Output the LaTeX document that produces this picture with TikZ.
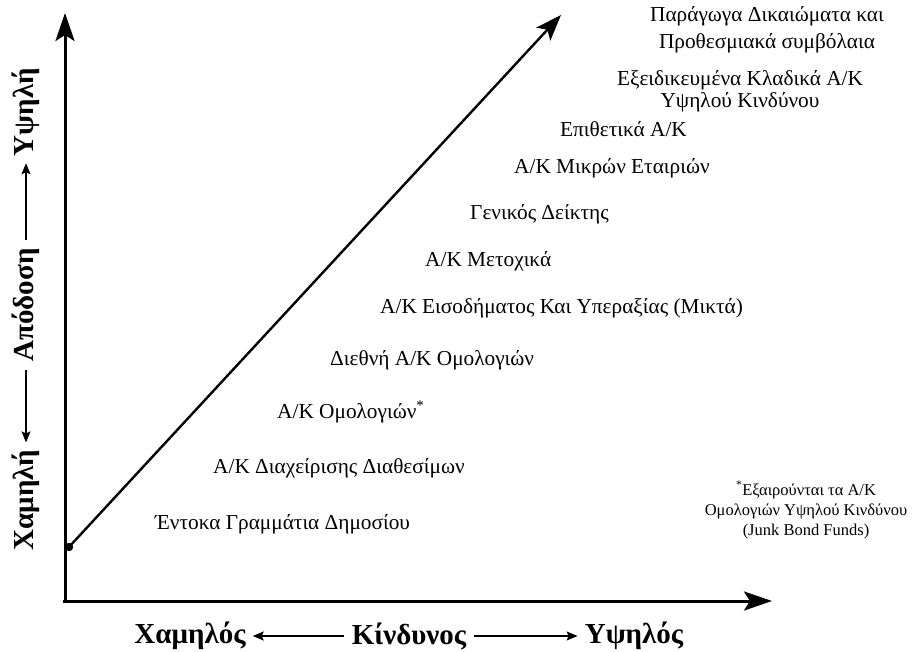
\documentclass[tikz,border=0pt]{standalone}
\usepackage{fontspec}
\setmainfont{Liberation Serif}
\usetikzlibrary{positioning, arrows.meta}
\tikzset{
  fundlbl/.style={font=\fontsize{21.3}{22}\selectfont, inner sep=0pt, anchor=west},
  fundpair/.style={font=\fontsize{21.3}{22}\selectfont, inner sep=0pt, align=center},
  notelbl/.style={font=\fontsize{16.5}{20}\selectfont, inner sep=0pt, align=center},
  axislbl/.style={font=\bfseries\fontsize{29}{30}\selectfont, inner sep=0pt},
  axisline/.style={line width=3pt, -{Stealth[length=28pt,width=19pt,inset=6pt]}},
  trendline/.style={line width=2.4pt, -{Stealth[length=26pt,width=19pt,inset=6pt]}},
  smallarrow/.style={line width=1.4pt, -{Stealth[length=11pt,width=9pt,inset=2pt]}},
}

\begin{document}
\begin{tikzpicture}[x=1pt,y=-1pt]
  \useasboundingbox (0,0) rectangle (912,652);

  % axes
  \coordinate (ytop) at (65,13);
  \coordinate (xend) at (772,601);
  \draw[axisline] (65,603) -- (ytop);
  \draw[axisline] (63,601) -- (xend);

  % risk / return line
  \coordinate (tstart) at (69,547);
  \coordinate (tend) at (561,15);
  \draw[trendline] (tstart) -- (tend);
  \fill (tstart) circle (4.2);

  % fund categories
  \node[fundpair] (deriv) at (767,29.5) {Παράγωγα Δικαιώματα και\\[5pt]Προθεσμιακά συμβόλαια};
  \node[fundpair] (sector) at (740,91.5) {Εξειδικευμένα Κλαδικά Α/Κ\\Υψηλού Κινδύνου};
  \node[fundlbl] (aggr) at (560,129) {Επιθετικά Α/Κ};
  \node[fundlbl] (small) at (514,168) {Α/Κ Μικρών Εταιριών};
  \node[fundlbl] (index) at (470,214) {Γενικός Δείκτης};
  \node[fundlbl] (equity) at (425,261) {Α/Κ Μετοχικά};
  \node[fundlbl] (mixed) at (380,308) {Α/Κ Εισοδήματος Και Υπεραξίας (Μικτά)};
  \node[fundlbl] (intbond) at (330,360) {Διεθνή Α/Κ Ομολογιών};
  \node[fundlbl] (bond) at (277,412) {Α/Κ Ομολογιών\textsuperscript{*}};
  \node[fundlbl] (money) at (213,468) {Α/Κ Διαχείρισης Διαθεσίμων};
  \node[fundlbl] (tbill) at (155,524) {Έντοκα Γραμμάτια Δημοσίου};

  % footnote
  \node[notelbl] (note) at (806,510) {\textsuperscript{*}Εξαιρούνται τα Α/Κ\\Ομολογιών Υψηλού Κινδύνου\\(Junk Bond Funds)};

  % x axis caption
  \node[axislbl] (xlow) at (190,636) {Χαμηλός};
  \node[axislbl] (xmid) at (409,636) {Κίνδυνος};
  \node[axislbl] (xhigh) at (634,636) {Υψηλός};
  \draw[smallarrow] ([xshift=-8pt]xmid.west) -- ([xshift=7pt]xlow.east);
  \draw[smallarrow] ([xshift=8pt]xmid.east) -- ([xshift=-7pt]xhigh.west);

  % y axis caption
  \node[axislbl, rotate=90] (ylow) at (26,500) {Χαμηλή};
  \node[axislbl, rotate=90] (ymid) at (26,305) {Απόδοση};
  \node[axislbl, rotate=90] (yhigh) at (26,112) {Υψηλή};
  \draw[smallarrow] ([yshift=-8pt]ymid.west) -- ([yshift=7pt]ylow.east);
  \draw[smallarrow] ([yshift=8pt]ymid.east) -- ([yshift=-7pt]yhigh.west);
\end{tikzpicture}
\end{document}
